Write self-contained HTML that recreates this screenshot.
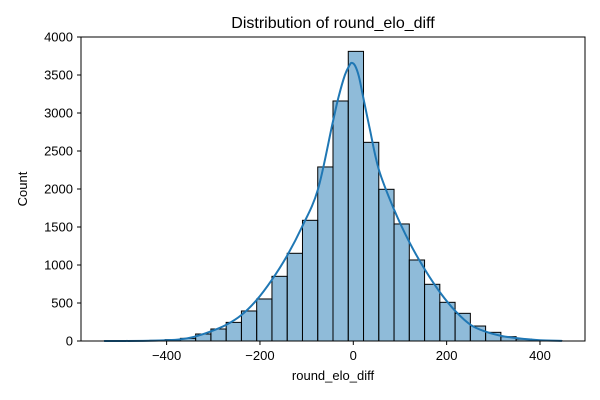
<!DOCTYPE html>
<html><head><meta charset="utf-8"><style>
html,body{margin:0;padding:0;background:#fff;}
svg{display:block;font-family:"Liberation Sans","DejaVu Sans",sans-serif;}
</style></head><body>
<svg id="chart" width="600" height="400" viewBox="0 0 600 400" xmlns="http://www.w3.org/2000/svg">
<rect x="0" y="0" width="600" height="400" fill="#fff"/>
<text x="333" y="28" text-anchor="middle" font-size="16" fill="#000">Distribution of round_elo_diff</text>
<g id="bars"></g>
<g id="kde"></g>
<g id="axes"></g>
<rect x="81" y="37" width="504" height="304" fill="none" stroke="#000" stroke-width="1"/>
<text x="333" y="380" text-anchor="middle" font-size="13">round_elo_diff</text>
<text x="27" y="189" text-anchor="middle" font-size="13" transform="rotate(-90 27 189)">Count</text>
</svg>
<script>
const binStart = -534;
const binWidth = 32.7;
const counts = [1,2,4,8,18,35,92,158,245,395,553,851,1154,1588,2290,3158,3811,2614,1996,1540,1066,746,509,364,197,114,57,25,10,4];
const kdeX = [-534,-450,-400,-371,-340,-307,-273,-240,-207,-175,-143,-110,-76,-45,-32,-18,-8,-3,4,12,21,35,55,88,121,154,187,220,252,284,318,350,400,447];
const kdeY = [0,2,10,22,57,122,210,340,540,800,1110,1500,1990,2850,3200,3500,3630,3660,3620,3480,3215,2800,2250,1720,1290,934,630,385,210,122,66,38,10,2];
const xTicks = [-400,-200,0,200,400];
const yTicks = [0,500,1000,1500,2000,2500,3000,3500,4000];

const NS = "http://www.w3.org/2000/svg";
function xs(v){return 353.3 + v*0.4667;}
function ys(v){return 341 - v*0.076;}
const bars = document.getElementById('bars');
counts.forEach((c,i)=>{
  const x0 = xs(binStart + i*binWidth), x1 = xs(binStart + (i+1)*binWidth);
  const r = document.createElementNS(NS,'rect');
  r.setAttribute('x', x0); r.setAttribute('width', x1-x0);
  r.setAttribute('y', ys(c)); r.setAttribute('height', ys(0)-ys(c));
  r.setAttribute('fill','rgba(31,119,180,0.5)');
  r.setAttribute('stroke','#000'); r.setAttribute('stroke-width','1');
  
  
  bars.appendChild(r);
});
const kde = document.getElementById('kde');
const pts = kdeX.map((x,i)=>[xs(x), ys(kdeY[i])]);
let d = 'M'+pts[0][0].toFixed(2)+' '+pts[0][1].toFixed(2);
for(let i=0;i<pts.length-1;i++){
  const p0=pts[Math.max(0,i-1)], p1=pts[i], p2=pts[i+1], p3=pts[Math.min(pts.length-1,i+2)];
  const c1=[p1[0]+(p2[0]-p0[0])/6, p1[1]+(p2[1]-p0[1])/6];
  const c2=[p2[0]-(p3[0]-p1[0])/6, p2[1]-(p3[1]-p1[1])/6];
  d += ' C'+c1[0].toFixed(2)+' '+c1[1].toFixed(2)+' '+c2[0].toFixed(2)+' '+c2[1].toFixed(2)+' '+p2[0].toFixed(2)+' '+p2[1].toFixed(2);
}
const p = document.createElementNS(NS,'path');
p.setAttribute('d', d);
p.setAttribute('fill','none'); p.setAttribute('stroke','#1f77b4'); p.setAttribute('stroke-width','2');
p.setAttribute('stroke-linejoin','round');


kde.appendChild(p);
const axes = document.getElementById('axes');
xTicks.forEach(t=>{
  const l = document.createElementNS(NS,'line');
  l.setAttribute('x1',xs(t)); l.setAttribute('x2',xs(t)); l.setAttribute('y1',341); l.setAttribute('y2',345);
  l.setAttribute('stroke','#000');
  
  
  axes.appendChild(l);
  const tx = document.createElementNS(NS,'text');
  tx.setAttribute('x',xs(t)); tx.setAttribute('y',360); tx.setAttribute('text-anchor','middle'); tx.setAttribute('font-size','13');
  tx.textContent = t<0 ? '\u2212'+Math.abs(t) : String(t);
  
  
  axes.appendChild(tx);
});
yTicks.forEach(t=>{
  const l = document.createElementNS(NS,'line');
  l.setAttribute('x1',77); l.setAttribute('x2',81); l.setAttribute('y1',ys(t)); l.setAttribute('y2',ys(t));
  l.setAttribute('stroke','#000');
  
  
  axes.appendChild(l);
  const tx = document.createElementNS(NS,'text');
  tx.setAttribute('x',73); tx.setAttribute('y',ys(t)+4.5); tx.setAttribute('text-anchor','end'); tx.setAttribute('font-size','13');
  tx.textContent = String(t);
  
  
  axes.appendChild(tx);
});
</script>
</body></html>
